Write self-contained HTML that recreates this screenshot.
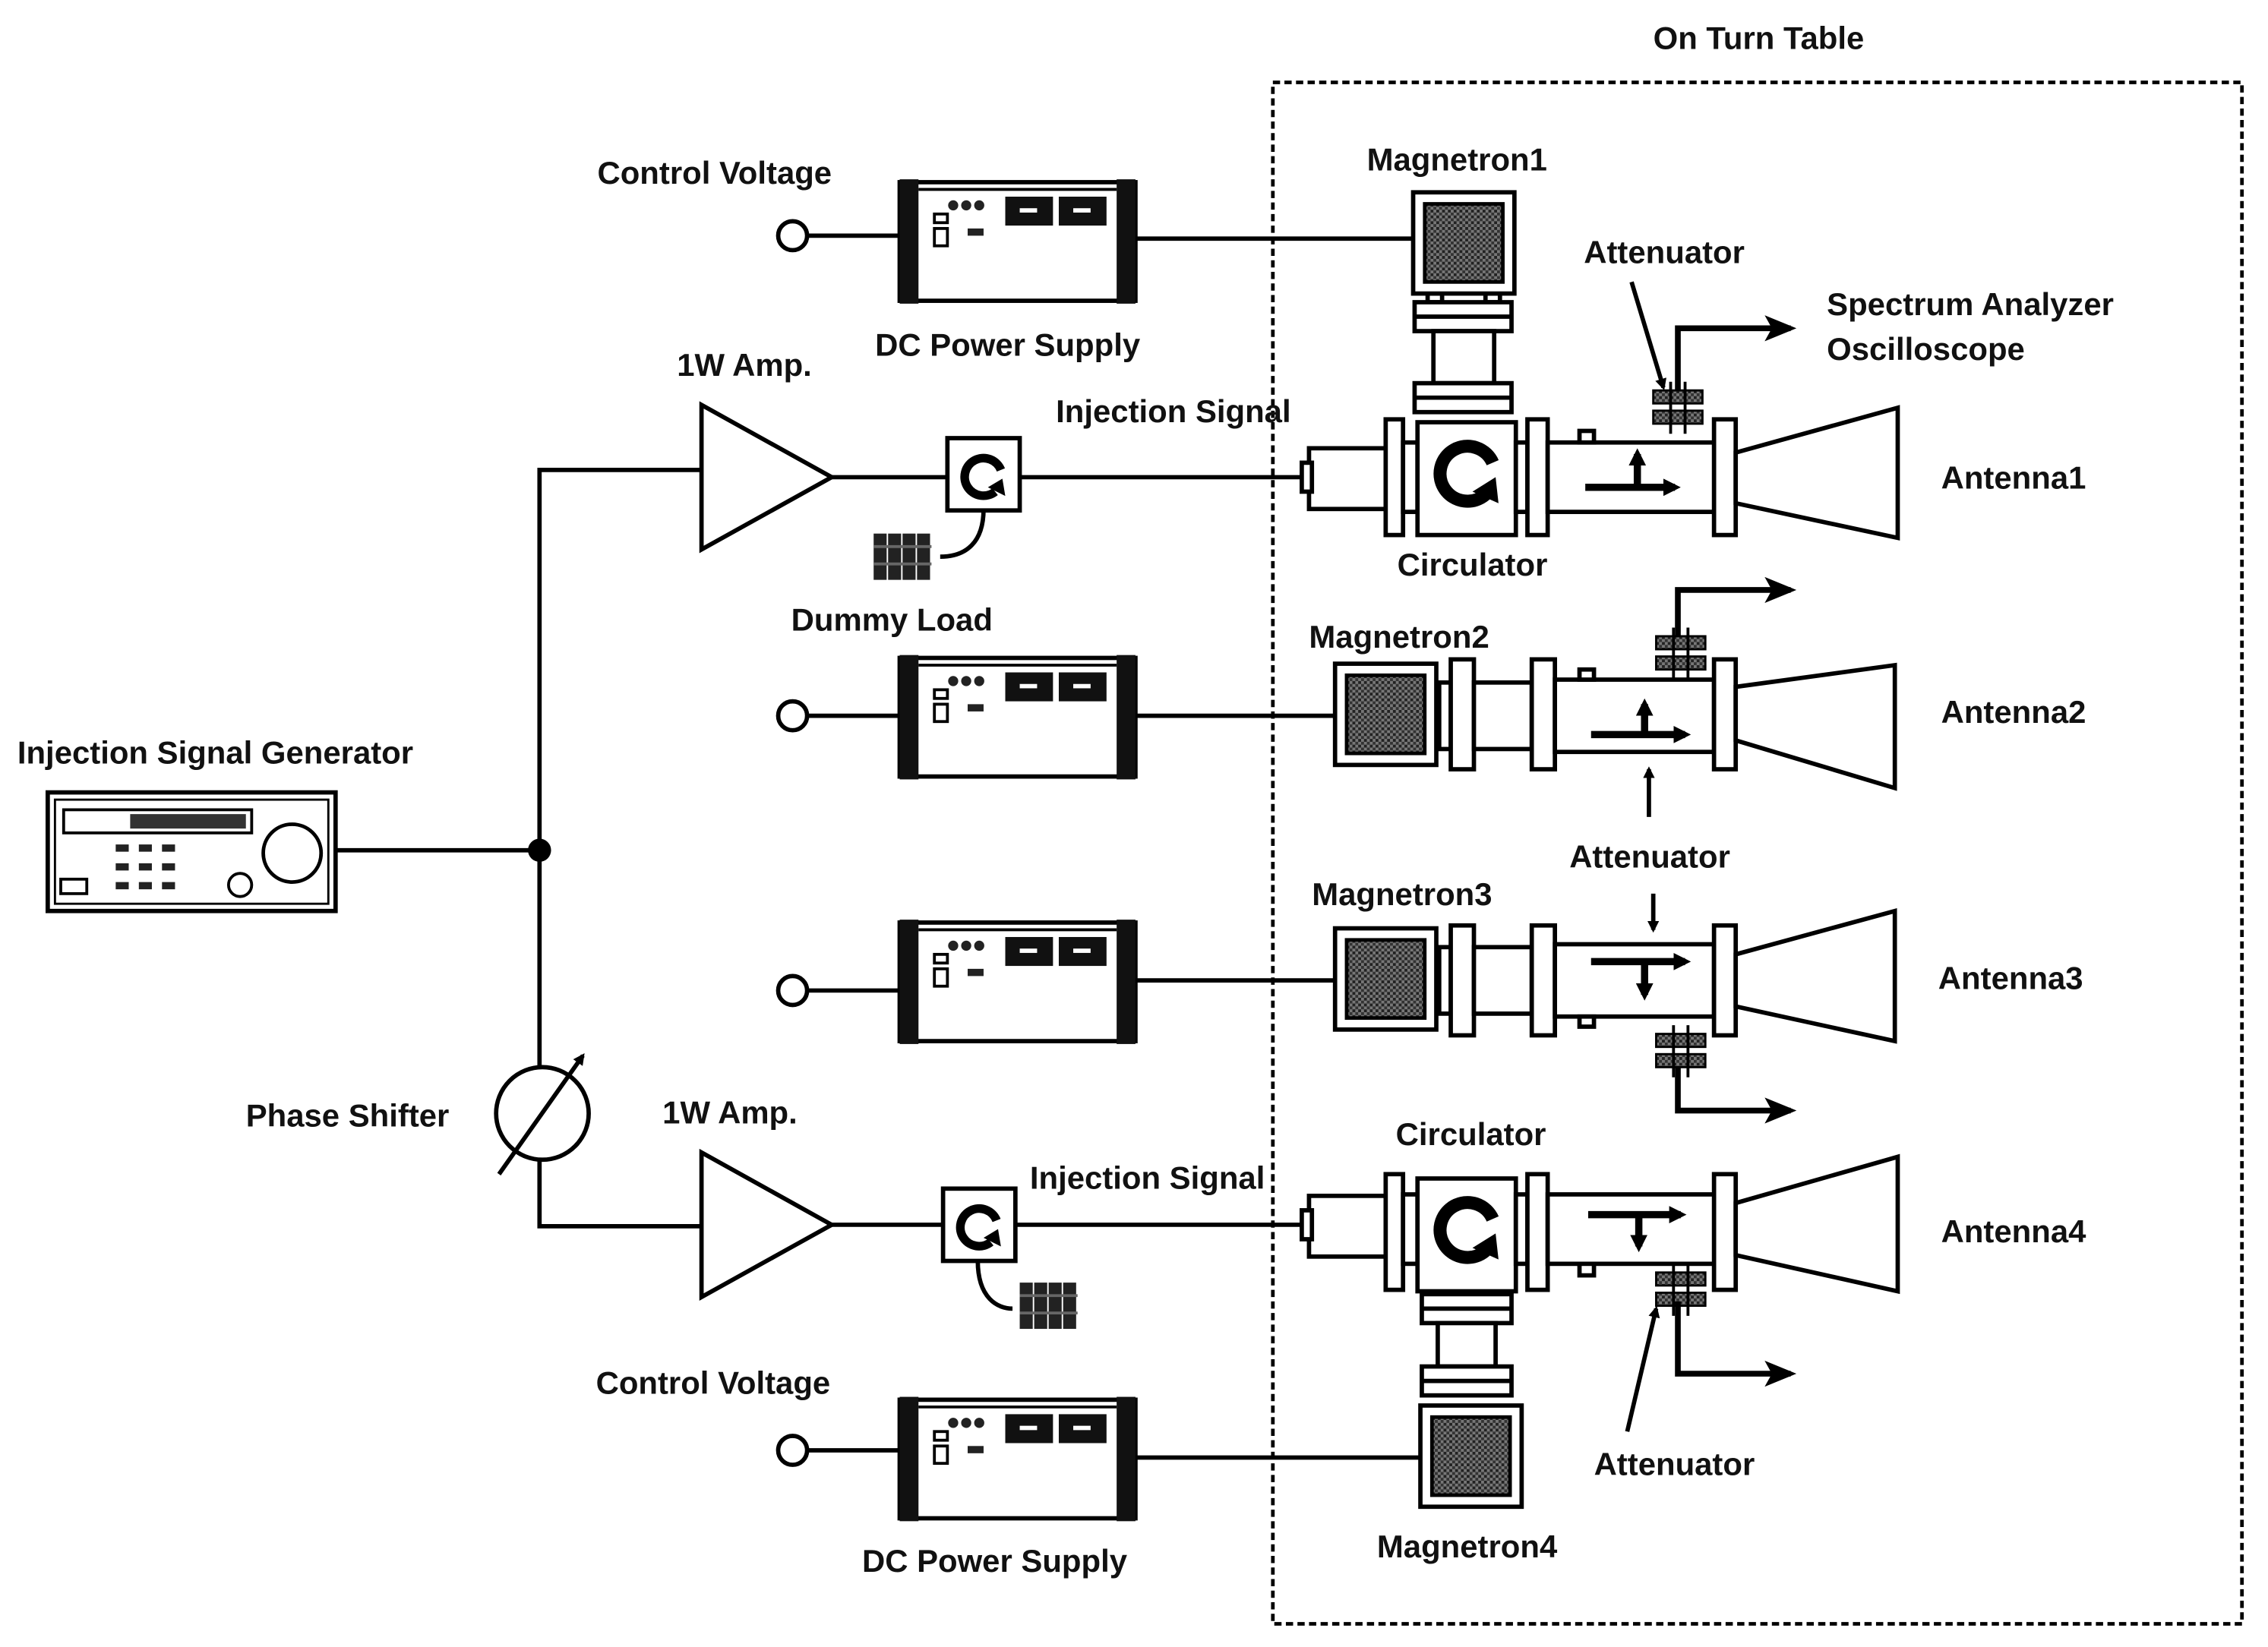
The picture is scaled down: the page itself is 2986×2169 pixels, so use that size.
<!DOCTYPE html>
<html><head><meta charset="utf-8"><style>
html,body{margin:0;padding:0;background:#fff;}
svg{display:block;}
text{font-family:"Liberation Sans",Arial,sans-serif;font-size:22px;font-weight:bold;fill:#111;}
</style></head><body>
<svg width="2986" height="2169" viewBox="0 0 1568 1139" preserveAspectRatio="none" xmlns="http://www.w3.org/2000/svg">
<defs>
<pattern id="hatch" width="4" height="4" patternUnits="userSpaceOnUse"><rect width="4" height="4" fill="#777"/><rect width="2" height="2" fill="#222"/><rect x="2" y="2" width="2" height="2" fill="#333"/></pattern>
<marker id="ah" markerWidth="12" markerHeight="12" refX="8" refY="6" orient="auto" markerUnits="userSpaceOnUse"><path d="M0,0 L12,6 L0,12 Z" fill="#000"/></marker>
<marker id="ahs" markerWidth="8" markerHeight="8" refX="6" refY="4" orient="auto" markerUnits="userSpaceOnUse"><path d="M0,0 L8,4 L0,8 Z" fill="#000"/></marker>
<marker id="ahb" markerWidth="22" markerHeight="18" refX="18" refY="9" orient="auto" markerUnits="userSpaceOnUse"><path d="M0,0 L22,9 L0,18 L5,9 Z" fill="#000"/></marker>
<g id="ps">
<rect x="0" y="0" width="163" height="82" fill="#fff" stroke="#000" stroke-width="3"/>
<rect x="0" y="-2" width="13" height="86" fill="#111"/>
<rect x="150" y="-2" width="13" height="86" fill="#111"/>
<line x1="13" y1="5" x2="150" y2="5" stroke="#000" stroke-width="2"/>
<circle cx="37" cy="16" r="3.5" fill="#222"/><circle cx="46" cy="16" r="3.5" fill="#222"/><circle cx="55" cy="16" r="3.5" fill="#222"/>
<rect x="73" y="10" width="33" height="20" fill="#111"/><rect x="110" y="10" width="33" height="20" fill="#111"/>
<rect x="83" y="18" width="12" height="3" fill="#fff"/><rect x="120" y="18" width="12" height="3" fill="#fff"/>
<rect x="24" y="22" width="9" height="6" fill="none" stroke="#000" stroke-width="2"/>
<rect x="24" y="32" width="9" height="12" fill="none" stroke="#000" stroke-width="2"/>
<rect x="47" y="32" width="11" height="5" fill="#222"/>
</g>
<g id="mag">
<rect x="0" y="0" width="70" height="70" fill="#fff" stroke="#000" stroke-width="3"/>
<rect x="8" y="8" width="54" height="54" fill="url(#hatch)" stroke="#000" stroke-width="2.5"/>
</g>
<g id="att">
<rect x="0" y="0" width="34" height="9" fill="url(#hatch)" stroke="#000" stroke-width="1.5"/>
<rect x="0" y="14" width="34" height="9" fill="url(#hatch)" stroke="#000" stroke-width="1.5"/>
<line x1="12" y1="-6" x2="12" y2="30" stroke="#000" stroke-width="2"/>
<line x1="22" y1="-6" x2="22" y2="30" stroke="#000" stroke-width="2"/>
</g>
<g id="load">
<rect x="0" y="0" width="9" height="32" fill="#222"/><rect x="10" y="0" width="9" height="32" fill="#222"/><rect x="20" y="0" width="9" height="32" fill="#222"/><rect x="30" y="0" width="9" height="32" fill="#222"/>
<line x1="0" y1="9" x2="40" y2="9" stroke="#666" stroke-width="2"/><line x1="0" y1="21" x2="40" y2="21" stroke="#666" stroke-width="2"/>
</g>
<g id="circ">
<rect x="0" y="0" width="50" height="50" fill="#fff" stroke="#000" stroke-width="3"/>
<path d="M33,37 A13,13 0 1 1 37,22" fill="none" stroke="#000" stroke-width="6"/>
<path d="M28,34 L40,40 L38,28 Z" fill="#000"/>
</g>
<g id="bigcirc">
<path d="M47,50 A19,19 0 1 1 52,28" fill="none" stroke="#000" stroke-width="9"/>
<path d="M38,48 L56,56 L54,38 Z" fill="#000"/>
</g>
</defs>

<rect x="880" y="57" width="670" height="1066" fill="none" stroke="#000" stroke-width="2.5" stroke-dasharray="5,3"/>
<text x="1143" y="34">On Turn Table</text>

<rect x="33" y="548" width="199" height="82" fill="#fff" stroke="#000" stroke-width="3"/>
<rect x="38" y="553" width="189" height="72" fill="none" stroke="#000" stroke-width="1.5"/>
<rect x="44" y="560" width="130" height="16" fill="#fff" stroke="#000" stroke-width="2"/>
<rect x="90" y="563" width="80" height="10" fill="#333"/>
<circle cx="202" cy="590" r="20" fill="#fff" stroke="#000" stroke-width="2.5"/>
<circle cx="166" cy="612" r="8" fill="#fff" stroke="#000" stroke-width="2"/>
<rect x="42" y="608" width="18" height="10" fill="none" stroke="#000" stroke-width="2"/>
<g fill="#222"><rect x="80" y="584" width="9" height="5"/><rect x="96" y="584" width="9" height="5"/><rect x="112" y="584" width="9" height="5"/><rect x="80" y="597" width="9" height="5"/><rect x="96" y="597" width="9" height="5"/><rect x="112" y="597" width="9" height="5"/><rect x="80" y="610" width="9" height="5"/><rect x="96" y="610" width="9" height="5"/><rect x="112" y="610" width="9" height="5"/></g>
<text x="12" y="528">Injection Signal Generator</text>

<g stroke="#000" stroke-width="3" fill="none">
<line x1="232" y1="588" x2="373" y2="588"/>
<polyline points="485,325 373,325 373,738"/>
<polyline points="373,802 373,848 485,848"/>
<line x1="575" y1="330" x2="655" y2="330"/>
<line x1="705" y1="330" x2="905" y2="330"/>
<line x1="575" y1="847" x2="652" y2="847"/>
<line x1="700" y1="847" x2="905" y2="847"/>
<path d="M680,352 C680,375 668,385 650,385"/>
<path d="M676,872 C676,898 690,905 700,905"/>
</g>
<circle cx="373" cy="588" r="8" fill="#000"/>
<circle cx="375" cy="770" r="32" fill="#fff" stroke="#000" stroke-width="3"/>
<line x1="345" y1="812" x2="403" y2="730" stroke="#000" stroke-width="3" marker-end="url(#ahs)"/>
<text x="170" y="779">Phase Shifter</text>

<polygon points="485,280 485,380 575,330" fill="#fff" stroke="#000" stroke-width="3"/>
<polygon points="485,797 485,897 575,847" fill="#fff" stroke="#000" stroke-width="3"/>
<text x="468" y="260">1W Amp.</text>
<text x="458" y="777">1W Amp.</text>
<use href="#circ" x="655" y="303"/>
<use href="#circ" x="652" y="822"/>
<use href="#load" x="604" y="369"/>
<use href="#load" x="705" y="887"/>
<text x="547" y="436">Dummy Load</text>
<text x="730" y="292">Injection Signal</text>
<text x="712" y="822">Injection Signal</text>

<use href="#ps" x="622" y="126"/>
<use href="#ps" x="622" y="455"/>
<use href="#ps" x="622" y="638"/>
<use href="#ps" x="622" y="968"/>
<g stroke="#000" stroke-width="3" fill="#fff">
<line x1="558" y1="163" x2="622" y2="163"/><circle cx="548" cy="163" r="10"/>
<line x1="558" y1="495" x2="622" y2="495"/><circle cx="548" cy="495" r="10"/>
<line x1="558" y1="685" x2="622" y2="685"/><circle cx="548" cy="685" r="10"/>
<line x1="558" y1="1003" x2="622" y2="1003"/><circle cx="548" cy="1003" r="10"/>
<line x1="785" y1="165" x2="978" y2="165"/>
<line x1="785" y1="495" x2="922" y2="495"/>
<line x1="785" y1="678" x2="922" y2="678"/>
<line x1="785" y1="1008" x2="983" y2="1008"/>
</g>
<text x="413" y="127">Control Voltage</text>
<text x="605" y="246">DC Power Supply</text>
<text x="412" y="964">Control Voltage</text>
<text x="596" y="1087">DC Power Supply</text>

<!-- ROW 1 -->
<g stroke="#000" stroke-width="3" fill="#fff">
<rect x="987" y="203" width="10" height="6"/><rect x="1027" y="203" width="10" height="6"/>
<rect x="978" y="209" width="67" height="20"/><line x1="978" y1="219" x2="1045" y2="219"/>
<rect x="991" y="229" width="42" height="36"/>
<rect x="978" y="265" width="67" height="20"/><line x1="978" y1="275" x2="1045" y2="275"/>
<rect x="905" y="310" width="53" height="42"/><rect x="900" y="320" width="7" height="20"/>
<rect x="958" y="290" width="12" height="80"/>
<rect x="970" y="306" width="10" height="48"/>
<rect x="980" y="292" width="68" height="78"/>
<rect x="1048" y="306" width="8" height="48"/>
<rect x="1056" y="290" width="14" height="80"/>
<rect x="1070" y="306" width="116" height="48"/>
<rect x="1092" y="298" width="10" height="8"/>
<rect x="1185" y="290" width="15" height="80"/>
<polygon points="1200,313 1312,282 1312,372 1200,348"/>
</g>
<use href="#mag" x="977" y="133"/>
<use href="#bigcirc" x="980" y="292"/>
<use href="#att" x="1143" y="270"/>
<g stroke="#000" stroke-width="5" fill="none">
<line x1="1096" y1="337" x2="1158" y2="337" marker-end="url(#ah)"/>
<line x1="1132" y1="337" x2="1132" y2="314" marker-end="url(#ah)"/>
<polyline points="1160,270 1160,227 1238,227" stroke-width="4" marker-end="url(#ahb)"/>
<line x1="1128" y1="195" x2="1150" y2="268" stroke-width="3" marker-end="url(#ahs)"/>
</g>
<text x="945" y="118">Magnetron1</text>
<text x="1095" y="182">Attenuator</text>
<text x="1263" y="218">Spectrum Analyzer</text>
<text x="1263" y="249">Oscilloscope</text>
<text x="1342" y="338">Antenna1</text>
<text x="966" y="398">Circulator</text>

<!-- ROW 2 -->
<g stroke="#000" stroke-width="3" fill="#fff">
<rect x="995" y="472" width="8" height="46"/>
<rect x="1003" y="456" width="16" height="76"/>
<rect x="1019" y="472" width="40" height="46"/>
<rect x="1059" y="456" width="16" height="76"/>
<rect x="1075" y="470" width="110" height="50"/>
<rect x="1092" y="463" width="10" height="7"/>
<rect x="1185" y="456" width="15" height="76"/>
<polygon points="1200,475 1310,460 1310,545 1200,512"/>
</g>
<use href="#mag" x="923" y="459"/>
<use href="#att" x="1145" y="440"/>
<g stroke="#000" stroke-width="5" fill="none">
<line x1="1100" y1="508" x2="1165" y2="508" marker-end="url(#ah)"/>
<line x1="1137" y1="508" x2="1137" y2="487" marker-end="url(#ah)"/>
<polyline points="1160,440 1160,408 1238,408" stroke-width="4" marker-end="url(#ahb)"/>
<line x1="1140" y1="565" x2="1140" y2="532" stroke-width="3" marker-end="url(#ahs)"/>
</g>
<text x="905" y="448">Magnetron2</text>
<text x="1342" y="500">Antenna2</text>
<text x="1085" y="600">Attenuator</text>

<!-- ROW 3 -->
<g stroke="#000" stroke-width="3" fill="#fff">
<rect x="995" y="655" width="8" height="46"/>
<rect x="1003" y="640" width="16" height="76"/>
<rect x="1019" y="655" width="40" height="46"/>
<rect x="1059" y="640" width="16" height="76"/>
<rect x="1075" y="653" width="110" height="50"/>
<rect x="1092" y="703" width="10" height="7"/>
<rect x="1185" y="640" width="15" height="76"/>
<polygon points="1200,660 1310,630 1310,720 1200,696"/>
</g>
<use href="#mag" x="923" y="642"/>
<use href="#att" x="1145" y="715"/>
<g stroke="#000" stroke-width="5" fill="none">
<line x1="1100" y1="665" x2="1165" y2="665" marker-end="url(#ah)"/>
<line x1="1137" y1="665" x2="1137" y2="688" marker-end="url(#ah)"/>
<polyline points="1160,738 1160,768 1238,768" stroke-width="4" marker-end="url(#ahb)"/>
<line x1="1143" y1="618" x2="1143" y2="643" stroke-width="3" marker-end="url(#ahs)"/>
</g>
<text x="907" y="626">Magnetron3</text>
<text x="1340" y="684">Antenna3</text>

<!-- ROW 4 -->
<g stroke="#000" stroke-width="3" fill="#fff">
<rect x="905" y="827" width="53" height="42"/><rect x="900" y="837" width="7" height="20"/>
<rect x="958" y="812" width="12" height="80"/>
<rect x="970" y="826" width="10" height="48"/>
<rect x="980" y="815" width="68" height="78"/>
<rect x="1048" y="826" width="8" height="48"/>
<rect x="1056" y="812" width="14" height="80"/>
<rect x="1070" y="826" width="116" height="48"/>
<rect x="1092" y="874" width="10" height="8"/>
<rect x="1185" y="812" width="15" height="80"/>
<polygon points="1200,832 1312,800 1312,893 1200,868"/>
<rect x="983" y="895" width="62" height="20"/><line x1="983" y1="905" x2="1045" y2="905"/>
<rect x="994" y="915" width="40" height="30"/>
<rect x="983" y="945" width="62" height="20"/><line x1="983" y1="955" x2="1045" y2="955"/>
</g>
<use href="#mag" x="982" y="972"/>
<use href="#bigcirc" x="980" y="815"/>
<use href="#att" x="1145" y="880"/>
<g stroke="#000" stroke-width="5" fill="none">
<line x1="1098" y1="840" x2="1162" y2="840" marker-end="url(#ah)"/>
<line x1="1133" y1="840" x2="1133" y2="862" marker-end="url(#ah)"/>
<polyline points="1160,900 1160,950 1238,950" stroke-width="4" marker-end="url(#ahb)"/>
<line x1="1125" y1="990" x2="1145" y2="905" stroke-width="3" marker-end="url(#ahs)"/>
</g>
<text x="965" y="792">Circulator</text>
<text x="1342" y="859">Antenna4</text>
<text x="1102" y="1020">Attenuator</text>
<text x="952" y="1077">Magnetron4</text>
</svg>
</body></html>
